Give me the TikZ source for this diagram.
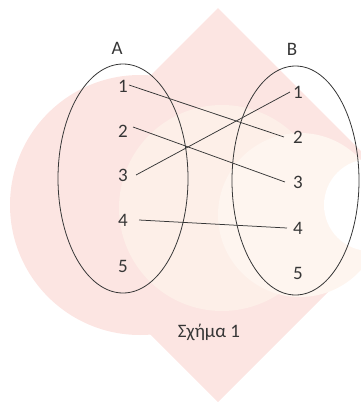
\documentclass[tikz,border=0pt]{standalone}
\usepackage{fontspec}
\setmainfont{Carlito}
\usetikzlibrary{shapes.geometric}
\definecolor{wmpink}{HTML}{FCE5E2}
\definecolor{wmcream}{HTML}{FDEFE8}
\definecolor{wmlight}{HTML}{FEF5EF}
\definecolor{inkgray}{HTML}{363636}
\begin{document}
\begin{tikzpicture}[x=1pt,y=-1pt,
  setellipse/.style={draw=inkgray,line width=0.8pt,ellipse,inner sep=0pt},
  elem/.style={text=inkgray,inner sep=3pt,font=\fontsize{19}{21}\selectfont},
  mapline/.style={draw=inkgray,line width=0.75pt}]
\useasboundingbox (0,0) rectangle (361,402);
% watermark background
\fill[wmpink] (218,8) -- (415,205) -- (218,402) -- (21,205) -- cycle;
\fill[wmpink] (140,205) circle[radius=130];
\fill[wmcream] (222,208) circle[radius=103];
\fill[wmlight] (300,215) circle[radius=82];
\fill[white] (370,205) circle[radius=46];
% sets
\node[setellipse,minimum width=130pt,minimum height=229pt] (ellA) at (123,178.5) {};
\node[setellipse,minimum width=127pt,minimum height=229pt] (ellB) at (295.5,180.5) {};
\node[elem] (labA) at (117,48) {A};
\node[elem] (labB) at (292,49) {B};
% elements of A
\node[elem] (A1) at (123,86) {1};
\node[elem] (A2) at (123,131) {2};
\node[elem] (A3) at (123,175) {3};
\node[elem] (A4) at (123,220) {4};
\node[elem] (A5) at (123,266) {5};
% elements of B
\node[elem] (B1) at (298,92) {1};
\node[elem] (B2) at (298,137) {2};
\node[elem] (B3) at (298,182) {3};
\node[elem] (B4) at (298,228) {4};
\node[elem] (B5) at (298,273) {5};
% mappings
\draw[mapline] ([xshift=-2pt,yshift=1pt]A1.east) -- ([xshift=-6pt]B2.west);
\draw[mapline] ([xshift=2pt,yshift=4pt]A2.east) -- ([xshift=-5pt]B3.west);
\draw[mapline] ([xshift=5pt]A3.east) -- ([xshift=0pt]B1.west);
\draw[mapline] ([xshift=8pt]A4.east) -- ([xshift=-3pt]B4.west);
% caption
\node[elem] (cap) at (209,332) {Σχήμα 1};
\end{tikzpicture}
\end{document}
